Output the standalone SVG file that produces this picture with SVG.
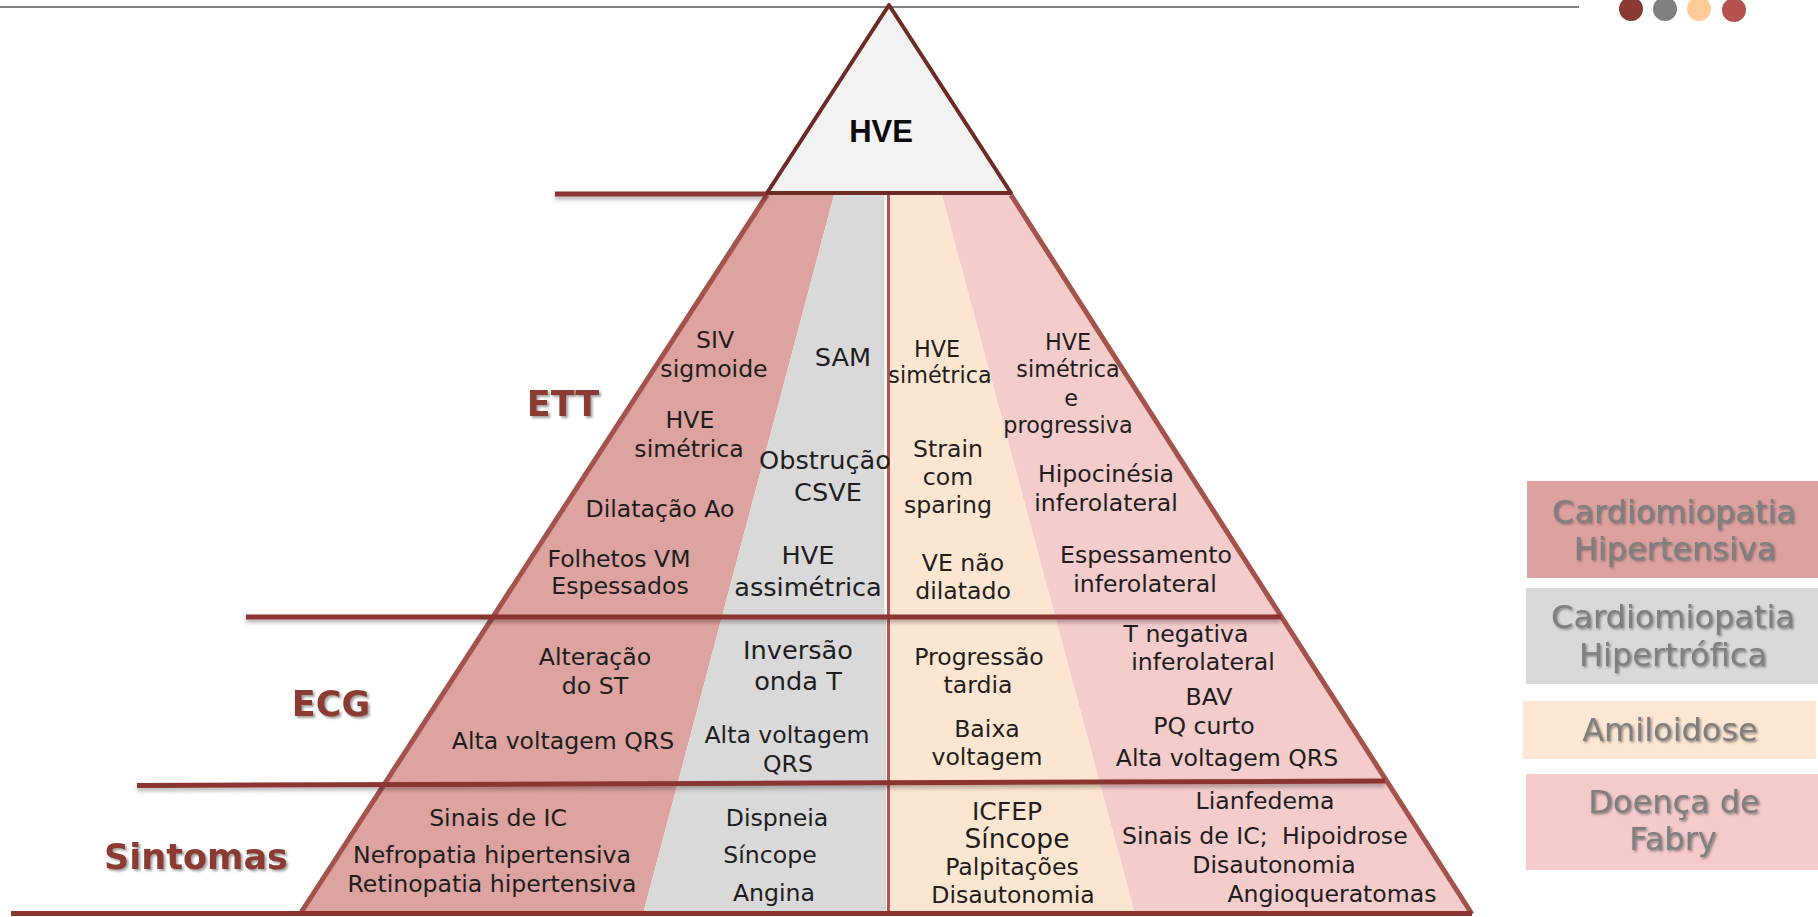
<svg xmlns="http://www.w3.org/2000/svg" width="1818" height="917" viewBox="0 0 1818 917">
<defs>
<style>
.t{font-family:"DejaVu Sans","Noto Sans",sans-serif;font-size:23.6px;fill:#1e1e1e;text-anchor:middle}
.big{font-size:25.6px}
.sm{font-size:22.3px}
.lvl{font-family:"DejaVu Sans","Liberation Sans",sans-serif;font-weight:bold;font-size:35px;fill:#8B3A33;text-anchor:middle}
.leg{font-family:"DejaVu Sans","Noto Sans",sans-serif;font-size:32px;fill:#7f7f7f;text-anchor:middle}
.hline{stroke:#8B3530;stroke-width:5;fill:none}
.edge{stroke:#A4524C;stroke-width:5;fill:none;stroke-linecap:butt}
</style>
<filter id="ls" filterUnits="userSpaceOnUse" x="0" y="0" width="1818" height="917">
<feDropShadow dx="0" dy="3" stdDeviation="2" flood-color="#000" flood-opacity="0.3"/>
</filter>
<filter id="ts" x="-10%" y="-30%" width="120%" height="160%">
<feDropShadow dx="2" dy="2" stdDeviation="1.2" flood-color="#555" flood-opacity="0.55"/>
</filter>
<filter id="gs" x="-10%" y="-30%" width="120%" height="160%">
<feDropShadow dx="1.5" dy="1.5" stdDeviation="1" flood-color="#444" flood-opacity="0.6"/>
</filter>
</defs>
<rect x="0" y="0" width="1818" height="917" fill="#ffffff"/>
<line x1="0" y1="7" x2="1579" y2="7" stroke="#808080" stroke-width="2"/>
<g id="dots">
<circle cx="1631" cy="9" r="12" fill="#8B3A33"/>
<circle cx="1665" cy="9" r="12" fill="#808080"/>
<circle cx="1699" cy="9" r="12" fill="#FFCC99"/>
<circle cx="1734" cy="10" r="12" fill="#B5544E"/>
</g>
<g id="col-hipertensiva">
<polygon points="767,195 834,195 643,914 300,914" fill="#DDA3A0"/>
</g>
<g id="col-hipertrofica">
<polygon points="834,195 886,195 886,914 643,914" fill="#D9D9D9"/>
<line x1="885.5" y1="195" x2="885.5" y2="615" stroke="#ffffff" stroke-width="2"/>
</g>
<g id="col-amiloidose">
<polygon points="890,195 942,195 1135,914 890,914" fill="#FDE6D1"/>
</g>
<g id="col-fabry">
<polygon points="942,195 1011,195 1472,914 1135,914" fill="#F4CCCC"/>
</g>
<g id="connectors">
<line x1="888.5" y1="195" x2="888.5" y2="914" stroke="#B5544E" stroke-width="3"/>
<line class="edge" x1="767" y1="195" x2="300" y2="914"/>
<line class="edge" x1="1011" y1="195" x2="1472" y2="914"/>
<line class="hline" x1="555" y1="194" x2="767" y2="194" filter="url(#ls)"/>
<line class="hline" x1="246" y1="617" x2="1281" y2="617" filter="url(#ls)"/>
<line class="hline" x1="137" y1="785.5" x2="1385" y2="781" filter="url(#ls)"/>
<line class="hline" x1="11" y1="913.5" x2="1472" y2="913.5"/>
</g>
<g id="apex">
<polygon points="889,5 767,193 1011,193" fill="#F2F2F2" stroke="#6E2A24" stroke-width="4" stroke-linejoin="round"/>
<text x="881" y="142" style="font-family:'Liberation Sans',Arial,sans-serif;font-weight:bold;font-size:31px;fill:#0a0a0a;text-anchor:middle">HVE</text>
</g>
<g id="labels" filter="url(#ts)">
<text class="lvl" x="563" y="416">ETT</text>
<text class="lvl" x="331" y="716">ECG</text>
<text class="lvl" x="196" y="869">Sintomas</text>
</g>
<g id="ett-texts">
<text class="t" x="715" y="348">SIV</text>
<text class="t" x="714" y="377">sigmoide</text>
<text class="t" x="690" y="428">HVE</text>
<text class="t" x="689" y="457">simétrica</text>
<text class="t" x="660" y="517">Dilatação Ao</text>
<text class="t" x="619" y="567">Folhetos VM</text>
<text class="t" x="620" y="594">Espessados</text>
<text class="t big" x="843" y="366">SAM</text>
<text class="t big" x="825" y="469">Obstrução</text>
<text class="t big" x="828" y="501">CSVE</text>
<text class="t big" x="808" y="564">HVE</text>
<text class="t big" x="808" y="596">assimétrica</text>
<text class="t sm" x="937" y="357">HVE</text>
<text class="t sm" x="940" y="383">simétrica</text>
<text class="t" x="948" y="457">Strain</text>
<text class="t" x="948" y="485">com</text>
<text class="t" x="948" y="513">sparing</text>
<text class="t" x="963" y="571">VE não</text>
<text class="t" x="963" y="599">dilatado</text>
<text class="t sm" x="1068" y="350">HVE</text>
<text class="t sm" x="1068" y="377">simétrica</text>
<text class="t sm" x="1071" y="406">e</text>
<text class="t sm" x="1068" y="433">progressiva</text>
<text class="t" x="1106" y="482">Hipocinésia</text>
<text class="t" x="1106" y="511">inferolateral</text>
<text class="t" x="1146" y="563">Espessamento</text>
<text class="t" x="1145" y="592">inferolateral</text>
</g>
<g id="ecg-texts">
<text class="t" x="595" y="665">Alteração</text>
<text class="t" x="595" y="694">do ST</text>
<text class="t" x="563" y="749">Alta voltagem QRS</text>
<text class="t big" x="798" y="659">Inversão</text>
<text class="t big" x="798" y="690">onda T</text>
<text class="t" x="787" y="743">Alta voltagem</text>
<text class="t" x="788" y="772">QRS</text>
<text class="t" x="979" y="665">Progressão</text>
<text class="t" x="978" y="693">tardia</text>
<text class="t" x="987" y="737">Baixa</text>
<text class="t" x="987" y="765">voltagem</text>
<text class="t" x="1186" y="642">T negativa</text>
<text class="t" x="1203" y="670">inferolateral</text>
<text class="t" x="1209" y="705">BAV</text>
<text class="t" x="1204" y="734">PQ curto</text>
<text class="t" x="1227" y="766">Alta voltagem QRS</text>
</g>
<g id="sintomas-texts">
<text class="t" x="498" y="826">Sinais de IC</text>
<text class="t" x="492" y="863">Nefropatia hipertensiva</text>
<text class="t" x="492" y="892">Retinopatia hipertensiva</text>
<text class="t" x="777" y="826">Dispneia</text>
<text class="t" x="770" y="863">Síncope</text>
<text class="t" x="774" y="901">Angina</text>
<text class="t" x="1007" y="820" style="font-size:25px">ICFEP</text>
<text class="t" x="1017" y="848" style="font-size:26.5px">Síncope</text>
<text class="t" x="1012" y="875">Palpitações</text>
<text class="t" x="1013" y="903">Disautonomia</text>
<text class="t" x="1265" y="809">Lianfedema</text>
<text class="t" y="844" style="text-anchor:start"><tspan x="1122">Sinais de IC;</tspan><tspan x="1282">Hipoidrose</tspan></text>
<text class="t" x="1274" y="873">Disautonomia</text>
<text class="t" x="1332" y="902">Angioqueratomas</text>
</g>
<g id="legend">
<g id="legend-hipertensiva">
<rect x="1527" y="481" width="291" height="97" fill="#DDA19F"/>
<text class="leg" x="1674" y="523" filter="url(#gs)">Cardiomiopatia</text>
<text class="leg" x="1675" y="560" filter="url(#gs)">Hipertensiva</text>
</g>
<g id="legend-hipertrofica">
<rect x="1526" y="588" width="292" height="96" fill="#D9D9D9"/>
<text class="leg" x="1673" y="628" filter="url(#gs)">Cardiomiopatia</text>
<text class="leg" x="1673" y="666" filter="url(#gs)">Hipertrófica</text>
</g>
<g id="legend-amiloidose">
<rect x="1523" y="701" width="293" height="58" fill="#FDE7D3"/>
<text class="leg" x="1670" y="741" filter="url(#gs)">Amiloidose</text>
</g>
<g id="legend-fabry">
<rect x="1526" y="774" width="292" height="96" fill="#F4CACA"/>
<text class="leg" x="1674" y="813" filter="url(#gs)">Doença de</text>
<text class="leg" x="1673" y="850" filter="url(#gs)">Fabry</text>
</g>
</g>
</svg>
